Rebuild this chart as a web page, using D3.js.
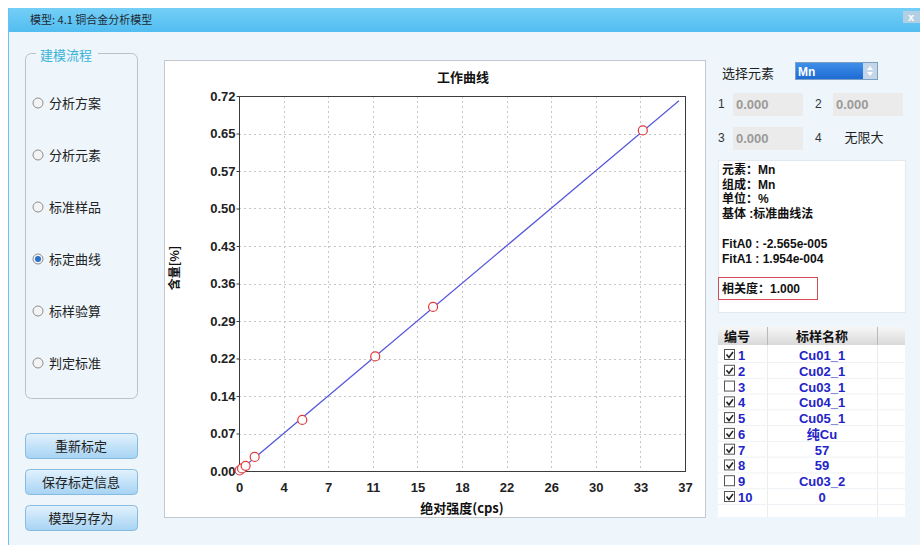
<!DOCTYPE html>
<html>
<head>
<meta charset="utf-8">
<script src="https://cdn.jsdelivr.net/npm/d3@7"></script>
<style>
body { margin: 0; background: #fff; }
text { font-family: "Noto Sans CJK SC", "Liberation Sans", sans-serif; }
text.num { font-family: "Liberation Sans", Arial, "Noto Sans CJK SC", sans-serif; }
</style>
</head>
<body>
<svg id="win" width="920" height="545"></svg>
<script>
// chart values
var xTickValues = [0, 3.7, 7.4, 11.1, 14.8, 18.5, 22.2, 25.9, 29.6, 33.3, 37];
var xTickLabels = ["0", "4", "7", "11", "15", "18", "22", "26", "30", "33", "37"];
var yTickValues = [0, 0.072, 0.144, 0.216, 0.288, 0.36, 0.432, 0.504, 0.576, 0.648, 0.72];
var yTickLabels = ["0.00", "0.07", "0.14", "0.22", "0.29", "0.36", "0.43", "0.50", "0.57", "0.65", "0.72"];

// standard samples: intensity (cps) vs content (%)
var stdIntensity = [0.05, 0.25, 0.55, 1.3, 5.25, 11.3, 16.1, 33.5];
var stdContent = [0.001, 0.005, 0.010, 0.027, 0.098, 0.220, 0.315, 0.654];

// fitted working curve end points
var fitIntensity = [0, 36.5];
var fitContent = [0, 0.711];

// ui lists
var steps = ["分析方案", "分析元素", "标准样品", "标定曲线", "标样验算", "判定标准"];
var selectedStep = 3;
var buttons = ["重新标定", "保存标定信息", "模型另存为"];
var infoLines = ["元素：Mn", "组成：Mn", "单位：%", "基体 :标准曲线法"];
var fitLines = ["FitA0 : -2.565e-005", "FitA1 : 1.954e-004"];
var sampleNo = ["1", "2", "3", "4", "5", "6", "7", "8", "9", "10"];
var sampleName = ["Cu01_1", "Cu02_1", "Cu03_1", "Cu04_1", "Cu05_1", "纯Cu", "57", "59", "Cu03_2", "0"];
var sampleChecked = [true, true, false, true, true, true, true, true, false, true];

var svg = d3.select("#win");
var defs = svg.append("defs");

function grad(id, c1, c2) {
    var g = defs.append("linearGradient").attr("id", id)
        .attr("x1", 0).attr("y1", 0).attr("x2", 0).attr("y2", 1);
    g.append("stop").attr("offset", "0%").attr("stop-color", c1);
    g.append("stop").attr("offset", "100%").attr("stop-color", c2);
}
grad("gTitle", "#74cff6", "#52bdf1");
grad("gBtn", "#e2f2fd", "#a6d3f3");
grad("gSel", "#3f90ea", "#1d6ad3");
grad("gHead", "#f7f7f7", "#d9d9d9");

// window frame
svg.append("rect").attr("x", 8).attr("y", 32).attr("width", 912).attr("height", 513).attr("fill", "#eef6fc");
svg.append("rect").attr("x", 8).attr("y", 8).attr("width", 912).attr("height", 24).attr("fill", "url(#gTitle)");
svg.append("line").attr("x1", 8.5).attr("x2", 8.5).attr("y1", 8).attr("y2", 545).attr("stroke", "#6cc2ee");
svg.append("text").attr("x", 30).attr("y", 24).attr("font-size", 11).attr("fill", "#1e2a33")
    .text("模型: 4.1 铜合金分析模型");
svg.append("rect").attr("x", 903).attr("y", 11).attr("width", 17).attr("height", 12).attr("fill", "#b2cfe4");
svg.append("text").attr("class", "num").attr("x", 911).attr("y", 21).attr("text-anchor", "middle")
    .attr("font-size", 11).attr("font-weight", "bold").attr("fill", "#fff").text("x");

// left group box
svg.append("rect").attr("x", 25.5).attr("y", 53.5).attr("width", 112).attr("height", 345).attr("rx", 6)
    .attr("fill", "none").attr("stroke", "#b7c2ca");
svg.append("rect").attr("x", 36).attr("y", 48).attr("width", 62).attr("height", 12).attr("fill", "#eef6fc");
svg.append("text").attr("x", 40).attr("y", 60).attr("font-size", 13).attr("fill", "#3bb3da").text("建模流程");

var stepY = d3.scalePoint().domain(steps).range([103, 363]);
var stepG = svg.selectAll(".step").data(steps).enter().append("g")
    .attr("transform", function(d) { return "translate(38," + stepY(d) + ")"; });
stepG.append("circle").attr("r", 5).attr("fill", "#f4f4f4").attr("stroke", "#8d8d8d");
stepG.filter(function(d, i) { return i == selectedStep; })
    .append("circle").attr("r", 3).attr("fill", "#2b6fcb");
stepG.append("text").attr("x", 11).attr("y", 5).attr("font-size", 13).attr("fill", "#222")
    .text(function(d) { return d; });

var btnY = [433, 469, 505];
var btnG = svg.selectAll(".btn").data(buttons).enter().append("g")
    .attr("transform", function(d, i) { return "translate(25," + btnY[i] + ")"; });
btnG.append("rect").attr("x", 0.5).attr("y", 0.5).attr("width", 112).attr("height", 25).attr("rx", 4)
    .attr("fill", "url(#gBtn)").attr("stroke", "#86bbe2");
btnG.append("text").attr("x", 56).attr("y", 18).attr("text-anchor", "middle").attr("font-size", 13)
    .attr("fill", "#222").text(function(d) { return d; });

// chart panel
svg.append("rect").attr("x", 164.5).attr("y", 60.5).attr("width", 541).attr("height", 457)
    .attr("fill", "#fff").attr("stroke", "#c3c9ce");

var x = d3.scaleLinear().domain([0, 37]).range([239, 685]);
var y = d3.scaleLinear().domain([0, 0.72]).range([471, 96]);

var grid = svg.append("g").attr("stroke", "#c6c6c6").attr("stroke-dasharray", "2,3");
grid.selectAll(".vg").data(xTickValues.slice(1, -1)).enter().append("line")
    .attr("x1", function(d) { return Math.round(x(d)) + 0.5; })
    .attr("x2", function(d) { return Math.round(x(d)) + 0.5; })
    .attr("y1", y(0.72)).attr("y2", y(0));
grid.selectAll(".hg").data(yTickValues.slice(1, -1)).enter().append("line")
    .attr("y1", function(d) { return Math.round(y(d)) + 0.5; })
    .attr("y2", function(d) { return Math.round(y(d)) + 0.5; })
    .attr("x1", x(0)).attr("x2", x(37));

svg.append("rect").attr("x", x(0) + 0.5).attr("y", y(0.72) + 0.5)
    .attr("width", x(37) - x(0)).attr("height", y(0) - y(0.72))
    .attr("fill", "none").attr("stroke", "#3c3c3c");

var yAxis = svg.append("g").attr("transform", "translate(" + (x(0) + 0.5) + ",0)")
    .call(d3.axisLeft(y).tickValues(yTickValues)
        .tickFormat(function(d, i) { return yTickLabels[i]; })
        .tickSize(3).tickPadding(1));
var xAxis = svg.append("g").attr("transform", "translate(0," + (y(0) + 0.5) + ")")
    .call(d3.axisBottom(x).tickValues(xTickValues)
        .tickFormat(function(d, i) { return xTickLabels[i]; })
        .tickSize(0).tickPadding(11));
[xAxis, yAxis].forEach(function(a) {
    a.select(".domain").remove();
    a.selectAll("line").attr("stroke", "#3c3c3c");
    a.selectAll("text").attr("class", "num").attr("font-size", 13).attr("font-weight", "bold")
        .attr("fill", "#222");
});

svg.append("text").attr("x", 463).attr("y", 82).attr("text-anchor", "middle")
    .attr("font-size", 13).attr("font-weight", "bold").attr("fill", "#111").text("工作曲线");
svg.append("text").attr("x", 462).attr("y", 513).attr("text-anchor", "middle")
    .attr("font-size", 13).attr("font-weight", "bold").attr("fill", "#111").text("绝对强度(cps)");
svg.append("text").attr("transform", "translate(179,268) rotate(-90)").attr("text-anchor", "middle")
    .attr("font-size", 12).attr("font-weight", "bold").attr("fill", "#111").text("含量[%]");

var fit = fitIntensity.map(function(d, i) { return [d, fitContent[i]]; });
svg.append("path").datum(fit)
    .attr("d", d3.line().x(function(d) { return x(d[0]); }).y(function(d) { return y(d[1]); }))
    .attr("fill", "none").attr("stroke", "#5757dd").attr("stroke-width", 1.2);

var pts = stdIntensity.map(function(d, i) { return [d, stdContent[i]]; });
svg.selectAll(".pt").data(pts).enter().append("circle")
    .attr("cx", function(d) { return x(d[0]); })
    .attr("cy", function(d) { return y(d[1]); })
    .attr("r", 4.5).attr("fill", "#fff").attr("stroke", "#e03a3a").attr("stroke-width", 1.2);

// right panel
svg.append("text").attr("x", 722).attr("y", 78).attr("font-size", 13).attr("fill", "#222").text("选择元素");
svg.append("rect").attr("x", 795.5).attr("y", 62.5).attr("width", 82).attr("height", 17)
    .attr("fill", "url(#gSel)").attr("stroke", "#7c9fc4");
svg.append("rect").attr("x", 863).attr("y", 63).attr("width", 14).attr("height", 16).attr("fill", "#c4d7ea");
svg.append("path").attr("d", "M867,70 L870,66 L873,70 Z M867,72 L870,76 L873,72 Z").attr("fill", "#fff");
svg.append("text").attr("class", "num").attr("x", 798).attr("y", 76).attr("font-size", 12)
    .attr("font-weight", "bold").attr("fill", "#fff").text("Mn");

var limLabels = ["1", "2", "3", "4"];
var limX = [718, 815, 718, 815];
var limY = [108, 108, 142, 142];
svg.selectAll(".lim").data(limLabels).enter().append("text").attr("class", "num")
    .attr("x", function(d, i) { return limX[i]; }).attr("y", function(d, i) { return limY[i]; })
    .attr("font-size", 12).attr("fill", "#333").text(function(d) { return d; });
var boxX = [733, 833, 733];
var boxY = [93, 93, 127];
var boxVal = ["0.000", "0.000", "0.000"];
boxVal.forEach(function(v, i) {
    svg.append("rect").attr("x", boxX[i]).attr("y", boxY[i]).attr("width", 70).attr("height", 23).attr("fill", "#ebebeb");
    svg.append("text").attr("class", "num").attr("x", boxX[i] + 3).attr("y", boxY[i] + 16)
        .attr("font-size", 13).attr("font-weight", "bold").attr("fill", "#9a9a9a").text(v);
});
svg.append("text").attr("x", 864).attr("y", 142).attr("text-anchor", "middle").attr("font-size", 13)
    .attr("fill", "#222").text("无限大");

svg.append("rect").attr("x", 718.5).attr("y", 160.5).attr("width", 187).attr("height", 152)
    .attr("fill", "#fff").attr("stroke", "#e2eaf0");
svg.selectAll(".info").data(infoLines).enter().append("text").attr("class", "num")
    .attr("x", 722).attr("y", function(d, i) { return 174 + i * 14.6; })
    .attr("font-size", 12).attr("font-weight", "bold").attr("fill", "#111")
    .text(function(d) { return d; });
svg.selectAll(".fitl").data(fitLines).enter().append("text").attr("class", "num")
    .attr("x", 722).attr("y", function(d, i) { return 247.5 + i * 15; })
    .attr("font-size", 12).attr("font-weight", "bold").attr("fill", "#111")
    .text(function(d) { return d; });
svg.append("text").attr("class", "num").attr("x", 722).attr("y", 293).attr("font-size", 12).attr("font-weight", "bold")
    .attr("fill", "#111").text("相关度：1.000");
svg.append("rect").attr("x", 718.5).attr("y", 277.5).attr("width", 99).attr("height", 22)
    .attr("fill", "none").attr("stroke", "#d54a57");

// sample table
svg.append("rect").attr("x", 718).attr("y", 327).attr("width", 187).attr("height", 190).attr("fill", "#fff");
svg.append("rect").attr("x", 718).attr("y", 327).attr("width", 187).attr("height", 18).attr("fill", "url(#gHead)");
[767, 877].forEach(function(cx) {
    svg.append("line").attr("x1", cx + 0.5).attr("x2", cx + 0.5).attr("y1", 327).attr("y2", 345).attr("stroke", "#b9b9b9");
    svg.append("line").attr("x1", cx + 0.5).attr("x2", cx + 0.5).attr("y1", 345).attr("y2", 517).attr("stroke", "#ececec");
});
svg.append("text").attr("x", 724).attr("y", 341).attr("font-size", 13).attr("font-weight", "bold").attr("fill", "#111").text("编号");
svg.append("text").attr("x", 822).attr("y", 341).attr("text-anchor", "middle").attr("font-size", 13)
    .attr("font-weight", "bold").attr("fill", "#111").text("标样名称");

var rowY = d3.scaleLinear().domain([0, 9]).range([355, 497]);
var rows = svg.selectAll(".row").data(sampleNo).enter().append("g")
    .attr("transform", function(d, i) { return "translate(0," + rowY(i) + ")"; });
rows.append("line").attr("x1", 718).attr("x2", 905).attr("y1", 7.5).attr("y2", 7.5).attr("stroke", "#eef1f5");
rows.append("rect").attr("x", 724.5).attr("y", -5.5).attr("width", 10).attr("height", 10)
    .attr("fill", "#fff").attr("stroke", "#555");
rows.filter(function(d, i) { return sampleChecked[i]; }).append("path")
    .attr("d", "M726.5,-0.5 L729,2.5 L733,-3").attr("fill", "none").attr("stroke", "#222").attr("stroke-width", 1.6);
rows.append("text").attr("class", "num").attr("x", 738).attr("y", 5).attr("font-size", 13)
    .attr("font-weight", "bold").attr("fill", "#2323c8").text(function(d) { return d; });
rows.append("text").attr("class", "num")
    .attr("x", 822).attr("y", 5).attr("text-anchor", "middle").attr("font-size", 13)
    .attr("font-weight", "bold").attr("fill", "#2323c8")
    .text(function(d, i) { return sampleName[i]; });
</script>
</body>
</html>
